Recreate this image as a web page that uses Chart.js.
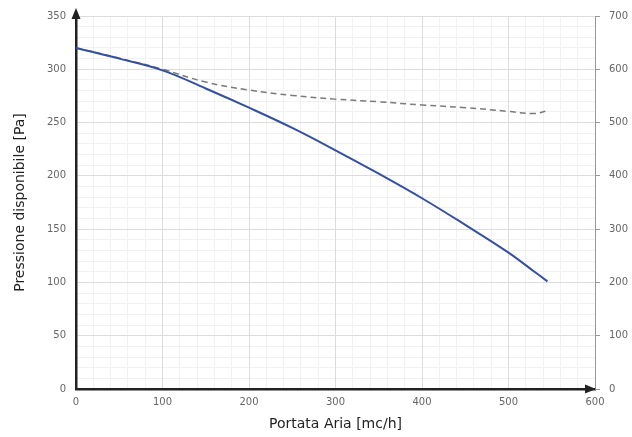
<!DOCTYPE html>
<html>
<head>
<meta charset="utf-8">
<script src="https://cdn.jsdelivr.net/npm/chart.js@4/dist/chart.umd.min.js"></script>
<style>
  html, body { margin: 0; padding: 0; background: #fff; }
  #wrap { position: relative; width: 632px; height: 437px; }
</style>
</head>
<body>
<div id="wrap"><canvas id="chart"></canvas></div>
<script>
// air flow [mc/h]
const portata = [0, 50, 100, 150, 200, 250, 300, 350, 400, 450, 500, 530, 545];
// available pressure [Pa] (left axis)
const pressione = [320, 310, 299, 282, 264, 245, 224, 202, 179, 154, 128, 110, 101];
// dashed curve (right axis)
const curvaDx = [640, 621, 600, 576, 561, 551, 544, 539, 533, 528, 521, 517, 522];

const xTicks = [0, 100, 200, 300, 400, 500, 600];
const yTicks = [0, 50, 100, 150, 200, 250, 300, 350];
const y2Ticks = [0, 100, 200, 300, 400, 500, 600, 700];

const tickFont = { family: "DejaVu Sans", size: 10 };
const titleFont = { family: "DejaVu Sans", size: 14 };

// arrows at the end of the main axes
const arrows = {
  id: "arrows",
  afterDraw(chart) {
    const ctx = chart.ctx;
    const x = chart.scales.x, y = chart.scales.y;
    const x0 = x.getPixelForValue(0), y0 = y.getPixelForValue(0);
    const yTop = y.getPixelForValue(350);
    const xEnd = x.getPixelForValue(600);
    ctx.save();
    ctx.fillStyle = "#222";
    ctx.strokeStyle = "#222";
    ctx.lineWidth = 2.5;
    ctx.beginPath();
    ctx.moveTo(x0, yTop);
    ctx.lineTo(x0, yTop - 4);
    ctx.stroke();
    ctx.beginPath();
    ctx.moveTo(x0, yTop - 8);
    ctx.lineTo(x0 - 4.5, yTop + 3);
    ctx.lineTo(x0 + 4.5, yTop + 3);
    ctx.closePath();
    ctx.fill();
    ctx.beginPath();
    ctx.moveTo(xEnd + 1, y0);
    ctx.lineTo(xEnd - 10, y0 - 4.5);
    ctx.lineTo(xEnd - 10, y0 + 4.5);
    ctx.closePath();
    ctx.fill();
    ctx.restore();
  }
};

new Chart(document.getElementById("chart"), {
  type: "line",
  data: {
    datasets: [
      {
        label: "Pressione disponibile",
        data: portata.map((v, i) => ({ x: v, y: pressione[i] })),
        yAxisID: "y",
        borderColor: "#34509e",
        borderWidth: 2,
        pointRadius: 0,
        tension: 0.4,
        fill: false
      },
      {
        label: "Curva",
        data: portata.map((v, i) => ({ x: v, y: curvaDx[i] })),
        yAxisID: "y2",
        borderColor: "#7a7a7a",
        borderWidth: 1.5,
        borderDash: [6, 4],
        pointRadius: 0,
        tension: 0.4,
        fill: false
      }
    ]
  },
  options: {
    responsive: true,
    maintainAspectRatio: false,
    animation: false,
    layout: { padding: { top: 13, left: 0, right: 0, bottom: 0 } },
    plugins: { legend: { display: false }, tooltip: { enabled: false } },
    scales: {
      xMinor: {
        type: "linear", position: "bottom", min: 0, max: 600, z: -1,
        ticks: { display: false, stepSize: 20 },
        grid: { color: "#f1f1f1", drawTicks: false },
        border: { display: false },
        afterFit(s) { s.height = 0; }
      },
      yMinor: {
        type: "linear", position: "left", min: 0, max: 350, z: -1,
        ticks: { display: false, stepSize: 10 },
        grid: { color: "#f1f1f1", drawTicks: false },
        border: { display: false },
        afterFit(s) { s.width = 0; }
      },
      x: {
        type: "linear", position: "bottom", min: 0, max: 600,
        afterBuildTicks(s) { s.ticks = xTicks.map(v => ({ value: v })); },
        ticks: { color: "#666", font: tickFont, padding: 7 },
        grid: { color: "#dcdcdc", drawTicks: false },
        border: { color: "#222", width: 2.5 },
        title: { display: true, text: "Portata Aria [mc/h]", color: "#222", font: titleFont, padding: { top: 0 } },
        afterFit(s) { s.height = 48; }
      },
      y: {
        type: "linear", position: "left", min: 0, max: 350,
        afterBuildTicks(s) { s.ticks = yTicks.map(v => ({ value: v })); },
        ticks: { color: "#666", font: tickFont, padding: 10 },
        grid: { color: "#dcdcdc", drawTicks: false },
        border: { color: "#222", width: 2.5 },
        title: { display: true, text: "Pressione disponibile [Pa]", color: "#222", font: titleFont, padding: { top: 12, bottom: 0 } },
        afterFit(s) { s.width = 76; }
      },
      y2: {
        type: "linear", position: "right", min: 0, max: 700,
        afterBuildTicks(s) { s.ticks = y2Ticks.map(v => ({ value: v })); },
        ticks: { color: "#666", font: tickFont, padding: 9 },
        grid: { drawOnChartArea: false, color: "#999", tickLength: 5 },
        border: { color: "#999", width: 1 },
        afterFit(s) { s.width = 37; }
      }
    }
  },
  plugins: [arrows]
});
</script>
</body>
</html>
